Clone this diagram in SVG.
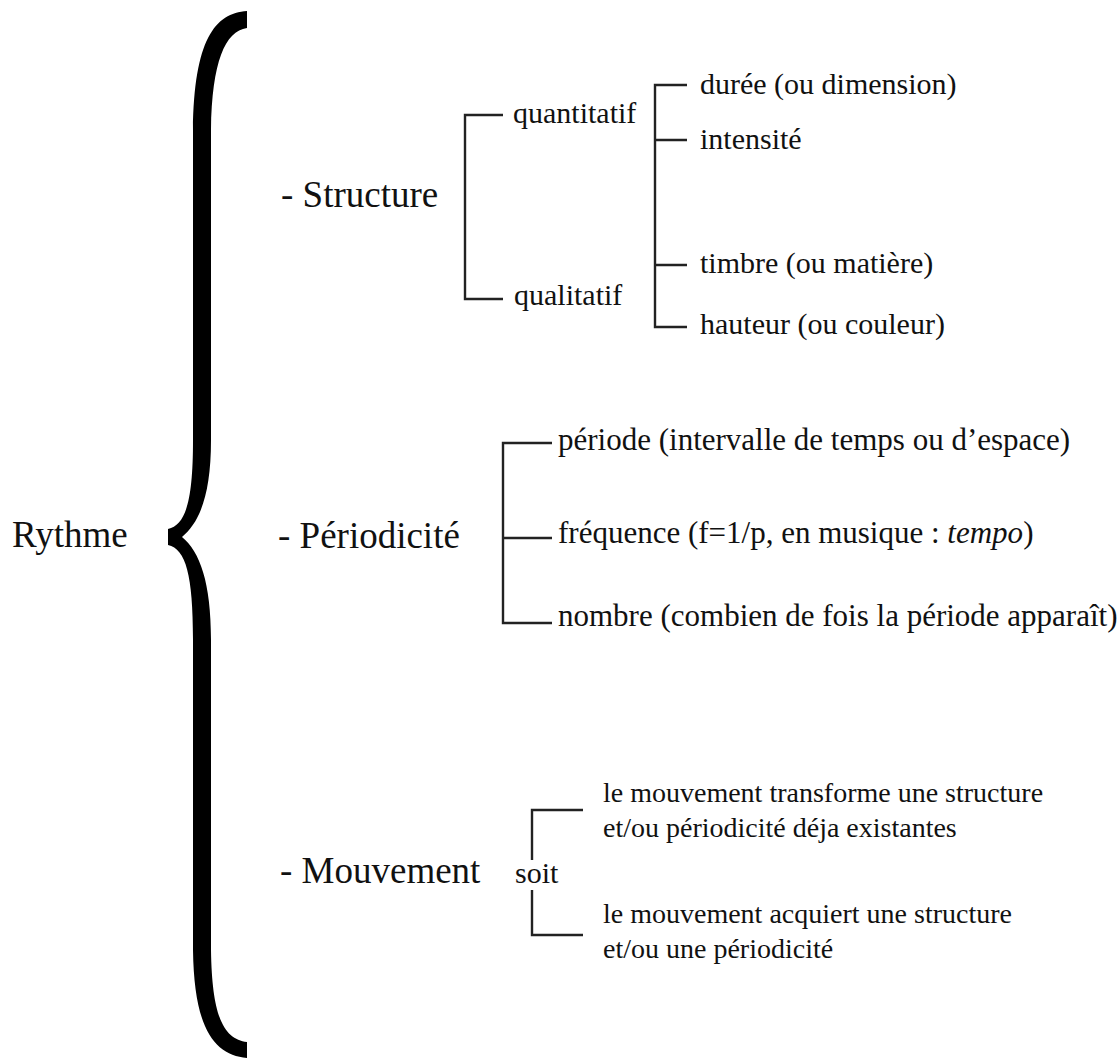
<svg xmlns="http://www.w3.org/2000/svg" width="1120" height="1061" viewBox="0 0 1120 1061">
<style>
text{font-family:"Liberation Serif","Times New Roman",serif;fill:#111}
.big{font-size:37px}
.sm{font-size:30px}
.pd{font-size:31px}
.mv{font-size:28px}
.ln{stroke:#222;stroke-width:2.4;fill:none}
</style>
<rect width="1120" height="1061" fill="#fff"/>
<g id="brace">
<path d="M247,11 C215,13 194,40 193,130 L193,440 C193,500 186,525 168,529 L168,545 C186,549 193,575 193,640 L193,950 C194,1030 215,1055 247,1058 L247,1042 C225,1039 212,1020 211,950 L211,640 C211,582 200,552 182,537 C200,522 211,494 211,440 L211,130 C212,62 225,31 247,28 Z" fill="#000"/>
</g>
<g id="rythme"><text class="big" x="12" y="547">Rythme</text></g>
<g id="structure"><text class="big" x="281" y="207">- Structure</text></g>
<g id="periodicite"><text class="big" x="278" y="548">- Périodicité</text></g>
<g id="mouvement"><text class="big" x="280" y="883">- Mouvement</text></g>
<g id="quantitatif"><text class="sm" x="513" y="123">quantitatif</text></g>
<g id="qualitatif"><text class="sm" x="514" y="305">qualitatif</text></g>
<g id="duree"><text class="sm" x="700" y="94">durée (ou dimension)</text></g>
<g id="intensite"><text class="sm" x="700" y="149">intensité</text></g>
<g id="timbre"><text class="sm" x="700" y="273">timbre (ou matière)</text></g>
<g id="hauteur"><text class="sm" x="700" y="334">hauteur (ou couleur)</text></g>
<g id="periode"><text class="pd" x="558" y="450">période (intervalle de temps ou d’espace)</text></g>
<g id="frequence"><text class="pd" x="558" y="543">fréquence (f=1/p, en musique : <tspan font-style="italic">tempo</tspan>)</text></g>
<g id="nombre"><text class="pd" x="558" y="626">nombre (combien de fois la période apparaît)</text></g>
<g id="soit"><text class="sm" x="515" y="883">soit</text></g>
<g id="transforme"><text class="mv" x="603" y="802">le mouvement transforme une structure</text><text class="mv" x="603" y="837">et/ou périodicité déja existantes</text></g>
<g id="acquiert"><text class="mv" x="603" y="923">le mouvement acquiert une structure</text><text class="mv" x="603" y="958">et/ou une périodicité</text></g>
<g id="connectors">
<path class="ln" d="M503,115 H465 V299 H503"/>
<path class="ln" d="M687,85 H655 V327 H687 M655,140 H687 M655,265 H687"/>
<path class="ln" d="M552,443 H503 V623 H552 M503,538 H552"/>
<path class="ln" d="M583,810 H532 V860 M532,890 V935 H583"/>
</g>
</svg>
